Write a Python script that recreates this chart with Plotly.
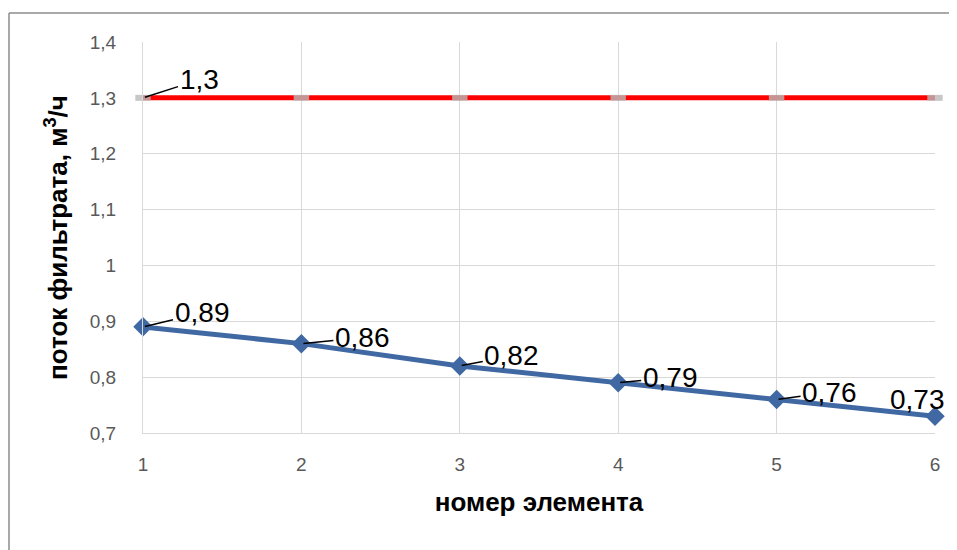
import plotly.graph_objects as go

elements = [1, 2, 3, 4, 5, 6]
flow_actual = [0.89, 0.86, 0.82, 0.79, 0.76, 0.73]
flow_nominal = [1.3, 1.3, 1.3, 1.3, 1.3, 1.3]
y_ticks = [0.7, 0.8, 0.9, 1.0, 1.1, 1.2, 1.3, 1.4]
label_offsets = [(59, -14), (61, -6), (52, -10), (52, -5), (53, -7), (-18, -17)]

BLUE = "#4068A3"
fig = go.Figure()

fig.add_trace(go.Scatter(
    x=elements, y=flow_nominal, mode="lines+markers",
    line=dict(color="#FF0000", width=5),
    marker=dict(symbol="line-ew", size=11, color="rgba(185,185,185,0.8)",
                line=dict(color="rgba(185,185,185,0.8)", width=6)),
    cliponaxis=False, showlegend=False))

fig.add_trace(go.Scatter(
    x=elements, y=flow_actual, mode="lines+markers",
    line=dict(color=BLUE, width=5),
    marker=dict(symbol="diamond", size=15, color=BLUE),
    cliponaxis=False, showlegend=False))

lab_font = dict(family="Liberation Sans, Arial", size=28, color="#000000")

def fmt(v):
    return ("%g" % v).replace(".", ",")

n = len(elements)
for i, (x, y) in enumerate(zip(elements, flow_actual)):
    dx, dy = label_offsets[i]
    if i < n - 1:
        fig.add_annotation(x=x, y=y, text=fmt(y), font=lab_font,
                           showarrow=True, arrowhead=0, arrowwidth=1.5,
                           arrowcolor="#000000", ax=dx, ay=dy, standoff=2,
                           xanchor="center", yanchor="middle")
    else:
        fig.add_annotation(x=x, y=y, text=fmt(y), font=lab_font, showarrow=False,
                           xshift=dx, yshift=-dy, xanchor="center", yanchor="middle")

fig.add_annotation(x=elements[0], y=flow_nominal[0], text=fmt(flow_nominal[0]), font=lab_font,
                   showarrow=True, arrowhead=0, arrowwidth=1.5, arrowcolor="#000000",
                   ax=56, ay=-18, standoff=2, xanchor="center", yanchor="middle")

# page body has an 8px margin; plot area spans page x 143..935, y 42..433
PW, PH = 792, 391
fig.add_shape(type="line", xref="paper", yref="paper",
              x0=(9 - 143) / PW, x1=1.05, y0=1 + (42 - 13) / PH, y1=1 + (42 - 13) / PH,
              line=dict(color="#8C8C8C", width=1.5))
fig.add_shape(type="line", xref="paper", yref="paper",
              x0=(9 - 143) / PW, x1=(9 - 143) / PW, y0=1 + (42 - 13) / PH, y1=-0.35,
              line=dict(color="#8C8C8C", width=1.5))

tick_font = dict(family="Liberation Sans, Arial", size=19, color="#595959")
title_font = dict(family="Liberation Sans, Arial", size=26, color="#000000")

fig.update_layout(
    width=949, height=542,
    margin=dict(l=135, r=22, t=34, b=117),
    paper_bgcolor="white", plot_bgcolor="white",
    separators=", ",
    xaxis=dict(range=[1, 6], tickvals=elements, ticktext=[str(e) for e in elements],
               showgrid=True, gridcolor="#D9D9D9", gridwidth=1.3,
               showline=True, linecolor="#D9D9D9", linewidth=1.3, zeroline=False,
               tickfont=tick_font, ticks="", ticklabelstandoff=14,
               title=dict(text="<b>номер элемента</b>", font=title_font, standoff=18)),
    yaxis=dict(range=[0.7, 1.4], tickvals=y_ticks,
               ticktext=[fmt(v) for v in y_ticks],
               showgrid=True, gridcolor="#D9D9D9", gridwidth=1.3,
               showline=True, linecolor="#D9D9D9", linewidth=1.3, zeroline=False,
               tickfont=tick_font, ticks="", ticklabelstandoff=22,
               title=dict(text="<b>поток фильтрата, м<sup>3</sup>/ч</b>", font=title_font, standoff=14)),
)

fig.write_html("out.html")
